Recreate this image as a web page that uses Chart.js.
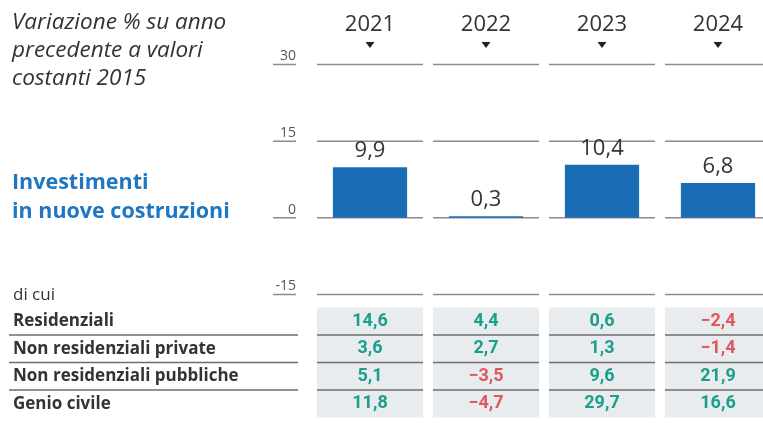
<!DOCTYPE html>
<html>
<head>
<meta charset="utf-8">
<script src="https://cdn.jsdelivr.net/npm/chart.js@4"></script>
<style>
  html, body { margin: 0; padding: 0; background: #fff; overflow: hidden; }
  #wrap { position: relative; width: 780px; height: 423px; }
</style>
</head>
<body>
<div id="wrap"><canvas id="chart"></canvas></div>
<script>
const years = ['2021', '2022', '2023', '2024'];
const investimenti = [9.9, 0.3, 10.4, 6.8];
const yTicks = [-15, 0, 15, 30];

const rowLabels = ['Residenziali', 'Non residenziali private', 'Non residenziali pubbliche', 'Genio civile'];
const residenziali = [14.6, 4.4, 0.6, -2.4];
const nonResPrivate = [3.6, 2.7, 1.3, -1.4];
const nonResPubbliche = [5.1, -3.5, 9.6, 21.9];
const genioCivile = [11.8, -4.7, 29.7, 16.6];
const tableRows = [residenziali, nonResPrivate, nonResPubbliche, genioCivile];

const titleLines = ['Variazione % su anno', 'precedente a valori', 'costanti 2015'];
const seriesLines = ['Investimenti', 'in nuove costruzioni'];

const TEXT = '#333333';
const BLUE = '#1a6db4';
const GREEN = '#1b9e8b';
const RED = '#e0575c';

function fmt(v) {
    return (v < 0 ? '\u2212' : '') + Math.abs(v).toFixed(1).replace('.', ',');
}

// half-width of each column segment
const HALF = 53;

const segmentGrid = {
    id: 'segmentGrid',
    beforeDatasetsDraw(chart) {
        const { ctx, scales: { x, y }, chartArea } = chart;
        ctx.save();
        ctx.strokeStyle = '#8c8c8c';
        ctx.lineWidth = 1.5;
        yTicks.forEach(v => {
            const py = y.getPixelForValue(v);
            ctx.beginPath();
            years.forEach((_, i) => {
                const cx = x.getPixelForValue(i);
                ctx.moveTo(cx - HALF, py);
                ctx.lineTo(cx + HALF, py);
            });
            // underline below tick label
            ctx.moveTo(chartArea.left - 39, py);
            ctx.lineTo(chartArea.left - 16, py);
            ctx.stroke();
        });
        // triangles under years
        ctx.fillStyle = '#222';
        years.forEach((_, i) => {
            const cx = x.getPixelForValue(i);
            ctx.beginPath();
            ctx.moveTo(cx - 4.5, 42);
            ctx.lineTo(cx + 4.5, 42);
            ctx.lineTo(cx, 48);
            ctx.closePath();
            ctx.fill();
        });
        ctx.restore();
    }
};

const barLabels = {
    id: 'barLabels',
    afterDatasetsDraw(chart) {
        const { ctx } = chart;
        const meta = chart.getDatasetMeta(0);
        ctx.save();
        ctx.font = '22px "Open Sans", sans-serif';
        ctx.fillStyle = TEXT;
        ctx.textAlign = 'center';
        ctx.textBaseline = 'alphabetic';
        meta.data.forEach((bar, i) => {
            ctx.fillText(fmt(investimenti[i]), bar.x, bar.y - 10);
        });
        ctx.restore();
    }
};

const sideText = {
    id: 'sideText',
    afterDraw(chart) {
        const { ctx, scales: { x }, chartArea } = chart;
        ctx.save();
        ctx.textAlign = 'left';
        ctx.textBaseline = 'middle';

        ctx.fillStyle = TEXT;
        ctx.font = 'italic 22.5px "Open Sans", sans-serif';
        titleLines.forEach((t, i) => ctx.fillText(t, 12, 23 + i * 28));

        ctx.fillStyle = '#1e77c0';
        ctx.font = 'bold 21.5px "Open Sans", sans-serif';
        seriesLines.forEach((t, i) => ctx.fillText(t, 12, 183 + i * 29));

        ctx.fillStyle = TEXT;
        ctx.font = '17px "Open Sans", sans-serif';
        ctx.fillText('di cui', 13, 295);

        // table
        const top = chartArea.bottom + 13;
        const rowH = 27.5;
        const nRows = tableRows.length;
        ctx.fillStyle = '#e8ecef';
        years.forEach((_, i) => {
            const cx = x.getPixelForValue(i);
            ctx.fillRect(cx - HALF, top, HALF * 2, rowH * nRows);
        });

        ctx.strokeStyle = '#6e6e6e';
        ctx.lineWidth = 1.5;
        ctx.beginPath();
        for (let r = 1; r < nRows; r++) {
            const py = top + r * rowH;
            ctx.moveTo(9, py);
            ctx.lineTo(298, py);
            years.forEach((_, i) => {
                const cx = x.getPixelForValue(i);
                ctx.moveTo(cx - HALF, py);
                ctx.lineTo(cx + HALF, py);
            });
        }
        ctx.stroke();

        tableRows.forEach((row, r) => {
            const py = top + (r + 0.5) * rowH;
            ctx.textAlign = 'left';
            ctx.fillStyle = TEXT;
            ctx.font = 'bold 17px "Open Sans", sans-serif';
            ctx.fillText(rowLabels[r], 13, py);
            ctx.textAlign = 'center';
            ctx.font = 'bold 18px "Roboto", sans-serif';
            row.forEach((v, i) => {
                ctx.fillStyle = v < 0 ? RED : GREEN;
                ctx.fillText(fmt(v), x.getPixelForValue(i), py);
            });
        });
        ctx.restore();
    }
};

new Chart(document.getElementById('chart'), {
    type: 'bar',
    data: {
        labels: years,
        datasets: [{
            label: 'Investimenti in nuove costruzioni',
            data: investimenti,
            backgroundColor: BLUE,
            borderWidth: 0,
            categoryPercentage: 1,
            barPercentage: 0.64
        }]
    },
    options: {
        responsive: true,
        maintainAspectRatio: false,
        animation: false,
        layout: { padding: { top: 0, right: 4, bottom: 128.5, left: 0 } },
        plugins: {
            legend: { display: false },
            tooltip: { enabled: false }
        },
        scales: {
            x: {
                position: 'top',
                grid: { display: false, drawTicks: false },
                border: { display: false },
                ticks: {
                    padding: 27,
                    color: TEXT,
                    font: { family: '"Open Sans", sans-serif', size: 22 }
                },
                afterFit(axis) { axis.height = 64.5; }
            },
            y: {
                min: -15,
                max: 30,
                grid: { display: false, drawTicks: false },
                border: { display: false },
                afterBuildTicks(axis) { axis.ticks = yTicks.map(v => ({ value: v })); },
                ticks: {
                    padding: 16,
                    labelOffset: -8,
                    color: '#555',
                    font: { family: '"Open Sans", sans-serif', size: 14 },
                    callback: v => String(v)
                },
                afterFit(axis) { axis.width = 312; }
            }
        }
    },
    plugins: [segmentGrid, barLabels, sideText]
});
</script>
</body>
</html>
